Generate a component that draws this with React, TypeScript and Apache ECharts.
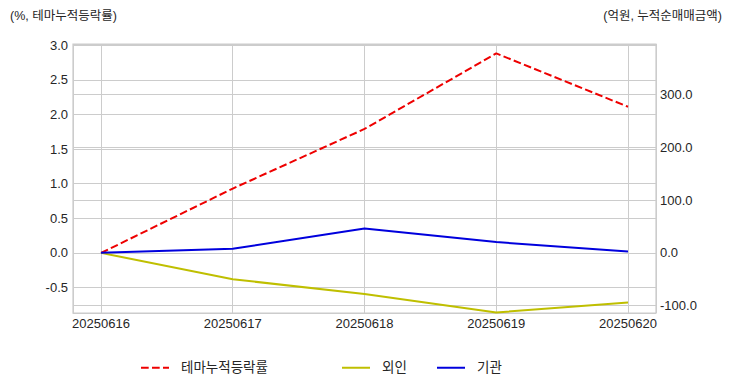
import React, { useEffect, useRef } from "react";
import * as echarts from "echarts";

const dates = ["20250616", "20250617", "20250618", "20250619", "20250620"];
const themeReturn = [0, 0.93, 1.79, 2.88, 2.11];
const foreignNet = [0, -50, -78, -113, -94];
const institutionNet = [0, 7.6, 46, 20.5, 2.5];
const seriesNames = ["테마누적등락률", "외인", "기관"];
const leftTitle = "(%, 테마누적등락률)";
const rightTitle = "(억원, 누적순매매금액)";

const FONT = "'Liberation Sans', 'Noto Sans CJK KR', sans-serif";
const TXT = "#262626";
const GRID = "#cccccc";

export default function App() {
  const ref = useRef<HTMLDivElement>(null);
  useEffect(() => {
    if (!ref.current) return;
    const chart = echarts.init(ref.current, null, { renderer: "svg" });
    const toPts = (arr: number[]) => arr.map((v, i) => [i, v]);
    const legendBase = (name: string, left: number) => ({
      data: [name],
      left,
      top: 361,
      padding: 0,
      itemWidth: 28,
      itemHeight: 14,
      itemStyle: { opacity: 0 },
      textStyle: { fontSize: 13.5, color: TXT, fontFamily: FONT, padding: [0, 0, 0, 7] },
    });
    chart.setOption({
      animation: false,
      backgroundColor: "#ffffff",
      textStyle: { fontFamily: FONT },
      grid: { left: 73, right: 76, top: 44, bottom: 79, show: true, borderColor: GRID, borderWidth: 1.25, backgroundColor: "transparent" },
      graphic: [
        { type: "text", left: 10, top: 10, style: { text: leftTitle, fontSize: 12.5, fill: TXT, fontFamily: FONT } },
        { type: "text", right: 10, top: 10, style: { text: rightTitle, fontSize: 12.5, fill: TXT, fontFamily: FONT } },
      ],
      legend: [
        legendBase(seriesNames[0], 140),
        legendBase(seriesNames[1], 341),
        legendBase(seriesNames[2], 436),
      ],
      xAxis: {
        type: "value",
        min: -0.2125,
        max: 4.2125,
        axisLine: { show: false },
        axisTick: { show: false },
        splitLine: { show: true, lineStyle: { color: GRID, width: 1 } },
        axisLabel: {
          color: TXT,
          fontSize: 13,
          fontFamily: FONT,
          margin: 4,
          formatter: (v: number) => (Math.abs(v - Math.round(v)) < 1e-6 && dates[Math.round(v)] ? dates[Math.round(v)] : ""),
        },
      },
      yAxis: [
        {
          type: "value",
          position: "left",
          min: -0.866,
          max: 3.016,
          splitNumber: 8,
          axisLine: { show: false },
          axisTick: { show: false },
          splitLine: { show: true, lineStyle: { color: GRID, width: 1 } },
          axisLabel: {
            color: TXT,
            fontSize: 13,
            fontFamily: FONT,
            margin: 5,
            formatter: (v: number) => (Math.abs(v * 2 - Math.round(v * 2)) < 1e-6 ? v.toFixed(1) : ""),
          },
        },
        {
          type: "value",
          position: "right",
          min: -114,
          max: 396,
          splitNumber: 5,
          axisLine: { show: false },
          axisTick: { show: false },
          splitLine: { show: true, lineStyle: { color: GRID, width: 1 } },
          axisLabel: {
            color: TXT,
            fontSize: 13,
            fontFamily: FONT,
            margin: 4,
            formatter: (v: number) => (Math.abs(v / 100 - Math.round(v / 100)) < 1e-6 ? v.toFixed(1) : ""),
          },
        },
      ],
      series: [
        {
          name: seriesNames[0],
          type: "line",
          yAxisIndex: 0,
          data: toPts(themeReturn),
          symbol: "none",
          color: "#ee0000",
          lineStyle: { color: "#ee0000", width: 2, type: [7.7, 3.3] },
          z: 3,
        },
        {
          name: seriesNames[1],
          type: "line",
          yAxisIndex: 1,
          data: toPts(foreignNet),
          symbol: "none",
          color: "#bfbf00",
          lineStyle: { color: "#bfbf00", width: 2 },
        },
        {
          name: seriesNames[2],
          type: "line",
          yAxisIndex: 1,
          data: toPts(institutionNet),
          symbol: "none",
          color: "#0000dd",
          lineStyle: { color: "#0000dd", width: 2 },
        },
      ],
    });
    return () => chart.dispose();
  }, []);
  return <div ref={ref} style={{ position: "fixed", left: 0, top: 0, width: 732, height: 392 }} />;
}
